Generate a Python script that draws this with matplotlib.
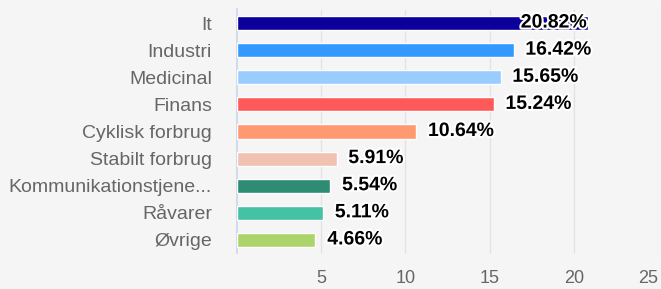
import matplotlib
matplotlib.use("Agg")
import matplotlib.pyplot as plt
import matplotlib.patheffects as pe

plt.rcParams.update({"font.family": ["Liberation Sans", "DejaVu Sans"]})

categories = ["It", "Industri", "Medicinal", "Finans", "Cyklisk forbrug",
              "Stabilt forbrug", "Kommunikationstjene...", "Råvarer", "Øvrige"]
values = [20.82, 16.42, 15.65, 15.24, 10.64, 5.91, 5.54, 5.11, 4.66]
colors = ["#0b0099", "#3399ff", "#99ccff", "#ff5a5a", "#ff9a70",
          "#f2c2b0", "#2e8b74", "#44c2a3", "#acd46a"]
xticks = [5, 10, 15, 20, 25]

BG = "#f5f5f5"
fig = plt.figure(figsize=(6.61, 2.89), dpi=100, facecolor=BG)
ax = fig.add_axes([237 / 661, 1 - 253.5 / 289, 421 / 661, 244 / 289], facecolor=BG)

y = list(range(len(categories)))
ax.barh(y, values, height=0.52, color=colors, edgecolor="white", linewidth=1, zorder=3)
ax.set_ylim(len(categories) - 0.5, -0.5)
ax.set_xlim(0, 25)

ax.set_xticks(xticks)
ax.set_xticklabels([str(t) for t in xticks], fontsize=13, color="#666666")
# last label is pushed inside the canvas, as the original does
ax.get_xticklabels()[-1].set_horizontalalignment("right")
ax.set_yticks(y)
ax.set_yticklabels(categories, fontsize=14, color="#666666")
ax.tick_params(axis="x", length=0, pad=12)
ax.tick_params(axis="y", length=0, pad=18)

ax.grid(axis="x", color="#e3e3e3", lw=1, zorder=0)
for s in ["top", "right", "bottom"]:
    ax.spines[s].set_visible(False)
ax.spines["left"].set_color("#ccd6eb")
ax.spines["left"].set_linewidth(1.2)

stroke = [pe.withStroke(linewidth=3, foreground="white")]
for yi, v in zip(y, values):
    txt = f"{v:.2f}%"
    if v > 20:
        ax.text(v - 0.05, yi, txt, ha="right", va="center", fontsize=14,
                fontweight="bold", color="black", path_effects=stroke, zorder=5)
    else:
        ax.text(v + 0.7, yi, txt, ha="left", va="center", fontsize=14,
                fontweight="bold", color="black", path_effects=stroke, zorder=5)

fig.savefig("out.png", dpi=100, facecolor=BG)
